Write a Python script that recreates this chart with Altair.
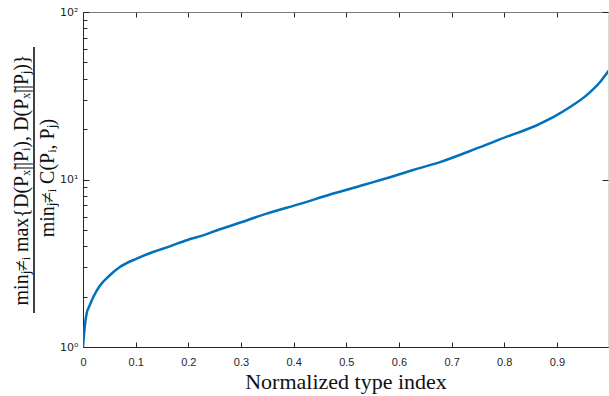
import altair as alt
import pandas as pd

# values
xs = [0.0, 0.004, 0.007, 0.012, 0.020, 0.032, 0.051, 0.070, 0.102, 0.133,
      0.165, 0.197, 0.228, 0.260, 0.285, 0.349, 0.412, 0.469, 0.539, 0.573,
      0.627, 0.678, 0.754, 0.817, 0.830, 0.893, 0.925, 0.956, 0.982, 0.999]
ys = [1.0, 1.38, 1.59, 1.75, 2.0, 2.32, 2.68, 3.0, 3.37, 3.69,
      3.99, 4.34, 4.64, 5.05, 5.35, 6.26, 7.15, 8.13, 9.4, 10.1,
      11.4, 12.7, 15.6, 18.6, 19.2, 23.6, 27.1, 31.8, 38.2, 44.9]
x_ticks = [0, 0.1, 0.2, 0.3, 0.4, 0.5, 0.6, 0.7, 0.8, 0.9]
y_major = [1, 10, 100]
y_minor = [2, 3, 4, 5, 6, 7, 8, 9, 20, 30, 40, 50, 60, 70, 80, 90]
x_title = "Normalized type index"
y_num = "minⱼ≠ᵢ max{D(Pₓ̃||Pᵢ), D(Pₓ̃||Pⱼ)}"
y_den = "minⱼ≠ᵢ C(Pᵢ, Pⱼ)"

W, H = 525, 335
AX = "#262626"
df = pd.DataFrame({"x": xs, "y": ys})

xs_scale = alt.Scale(domain=[0, 0.997], nice=False, zero=False)
ys_scale = alt.Scale(type="log", domain=[1, 100], nice=False)

base = alt.Chart(df)

lineA = base.mark_line(color="#0072BD", strokeWidth=2.5, clip=True,
                       interpolate="monotone").encode(
    x=alt.X("x:Q", scale=xs_scale, axis=alt.Axis(
        orient="bottom", values=x_ticks, ticks=False, grid=False, domain=True,
        domainColor=AX, domainWidth=1, labelColor=AX, labelFont="Liberation Sans",
        labelFontSize=11, labelPadding=9, labelFlush=False,
        labelExpr="datum.value == 0 ? '0' : format(datum.value, '.1f')",
        title=x_title, titleFont="Liberation Serif", titleFontSize=22,
        titleFontWeight="normal", titleColor="#111111", titleBaseline="alphabetic",
        titleY=41)),
    y=alt.Y("y:Q", scale=ys_scale, axis=alt.Axis(
        orient="left", values=y_major, ticks=False, grid=False, domain=True,
        domainColor=AX, domainWidth=1, labelColor=AX, labelFont="DejaVu Sans",
        labelFontSize=11, labelPadding=5, labelFlush=False,
        labelExpr="datum.value == 1 ? '10⁰' : datum.value == 10 ? '10¹' : '10²'",
        title=None)),
)

ghost = base.mark_line(strokeOpacity=0)

layerB = ghost.encode(
    x=alt.X("x:Q", scale=xs_scale, axis=alt.Axis(
        orient="top", offset=-H, values=x_ticks, ticks=True, tickSize=5,
        tickColor=AX, labels=False, domain=False, grid=False, title=None)),
    y=alt.Y("y:Q", scale=ys_scale, axis=alt.Axis(
        orient="right", offset=-W, values=y_major, ticks=True, tickSize=6,
        tickColor=AX, labels=False, domain=False, grid=False, title=None)),
)

layerC = ghost.encode(
    x=alt.X("x:Q", scale=xs_scale, axis=alt.Axis(
        orient="bottom", offset=-H, values=x_ticks, ticks=True, tickSize=5,
        tickColor=AX, labels=False, domain=True, domainColor="#7a7a7a",
        grid=False, title=None)),
    y=alt.Y("y:Q", scale=ys_scale, axis=alt.Axis(
        orient="right", offset=-W, values=y_minor, ticks=True, tickSize=4,
        tickColor=AX, labels=False, domain=False, grid=False, title=None)),
)

layerD = ghost.encode(
    x=alt.X("x:Q", scale=xs_scale, axis=None),
    y=alt.Y("y:Q", scale=ys_scale, axis=alt.Axis(
        orient="left", offset=-W, values=y_major, ticks=True, tickSize=6,
        tickColor=AX, labels=False, domain=False, grid=False, title=None)),
)

tdf = pd.DataFrame({"num": [y_num], "den": [y_den]})
num = alt.Chart(tdf).mark_text(angle=270, font="Liberation Serif", fontSize=20,
                               color="#111111", align="center", baseline="middle").encode(
    text="num:N", x=alt.value(-61), y=alt.value(168))
den = alt.Chart(tdf).mark_text(angle=270, font="Liberation Serif", fontSize=20,
                               color="#111111", align="center", baseline="middle").encode(
    text="den:N", x=alt.value(-35), y=alt.value(166))
bar = alt.Chart(tdf).mark_rule(color="#111111", strokeWidth=1.6).encode(
    x=alt.value(-49), y=alt.value(35), y2=alt.value(301))

chart = alt.layer(lineA, layerB, layerC, layerD, num, den, bar).resolve_axis(
    x="independent", y="independent"
).properties(
    width=W, height=H, autosize=alt.AutoSizeParams(type="none"),
    padding={"left": 83, "top": 12, "right": 1, "bottom": 49},
).configure_view(stroke=None).configure(background="white")

chart.save("out.html", embed_options={"renderer": "svg", "actions": False})
